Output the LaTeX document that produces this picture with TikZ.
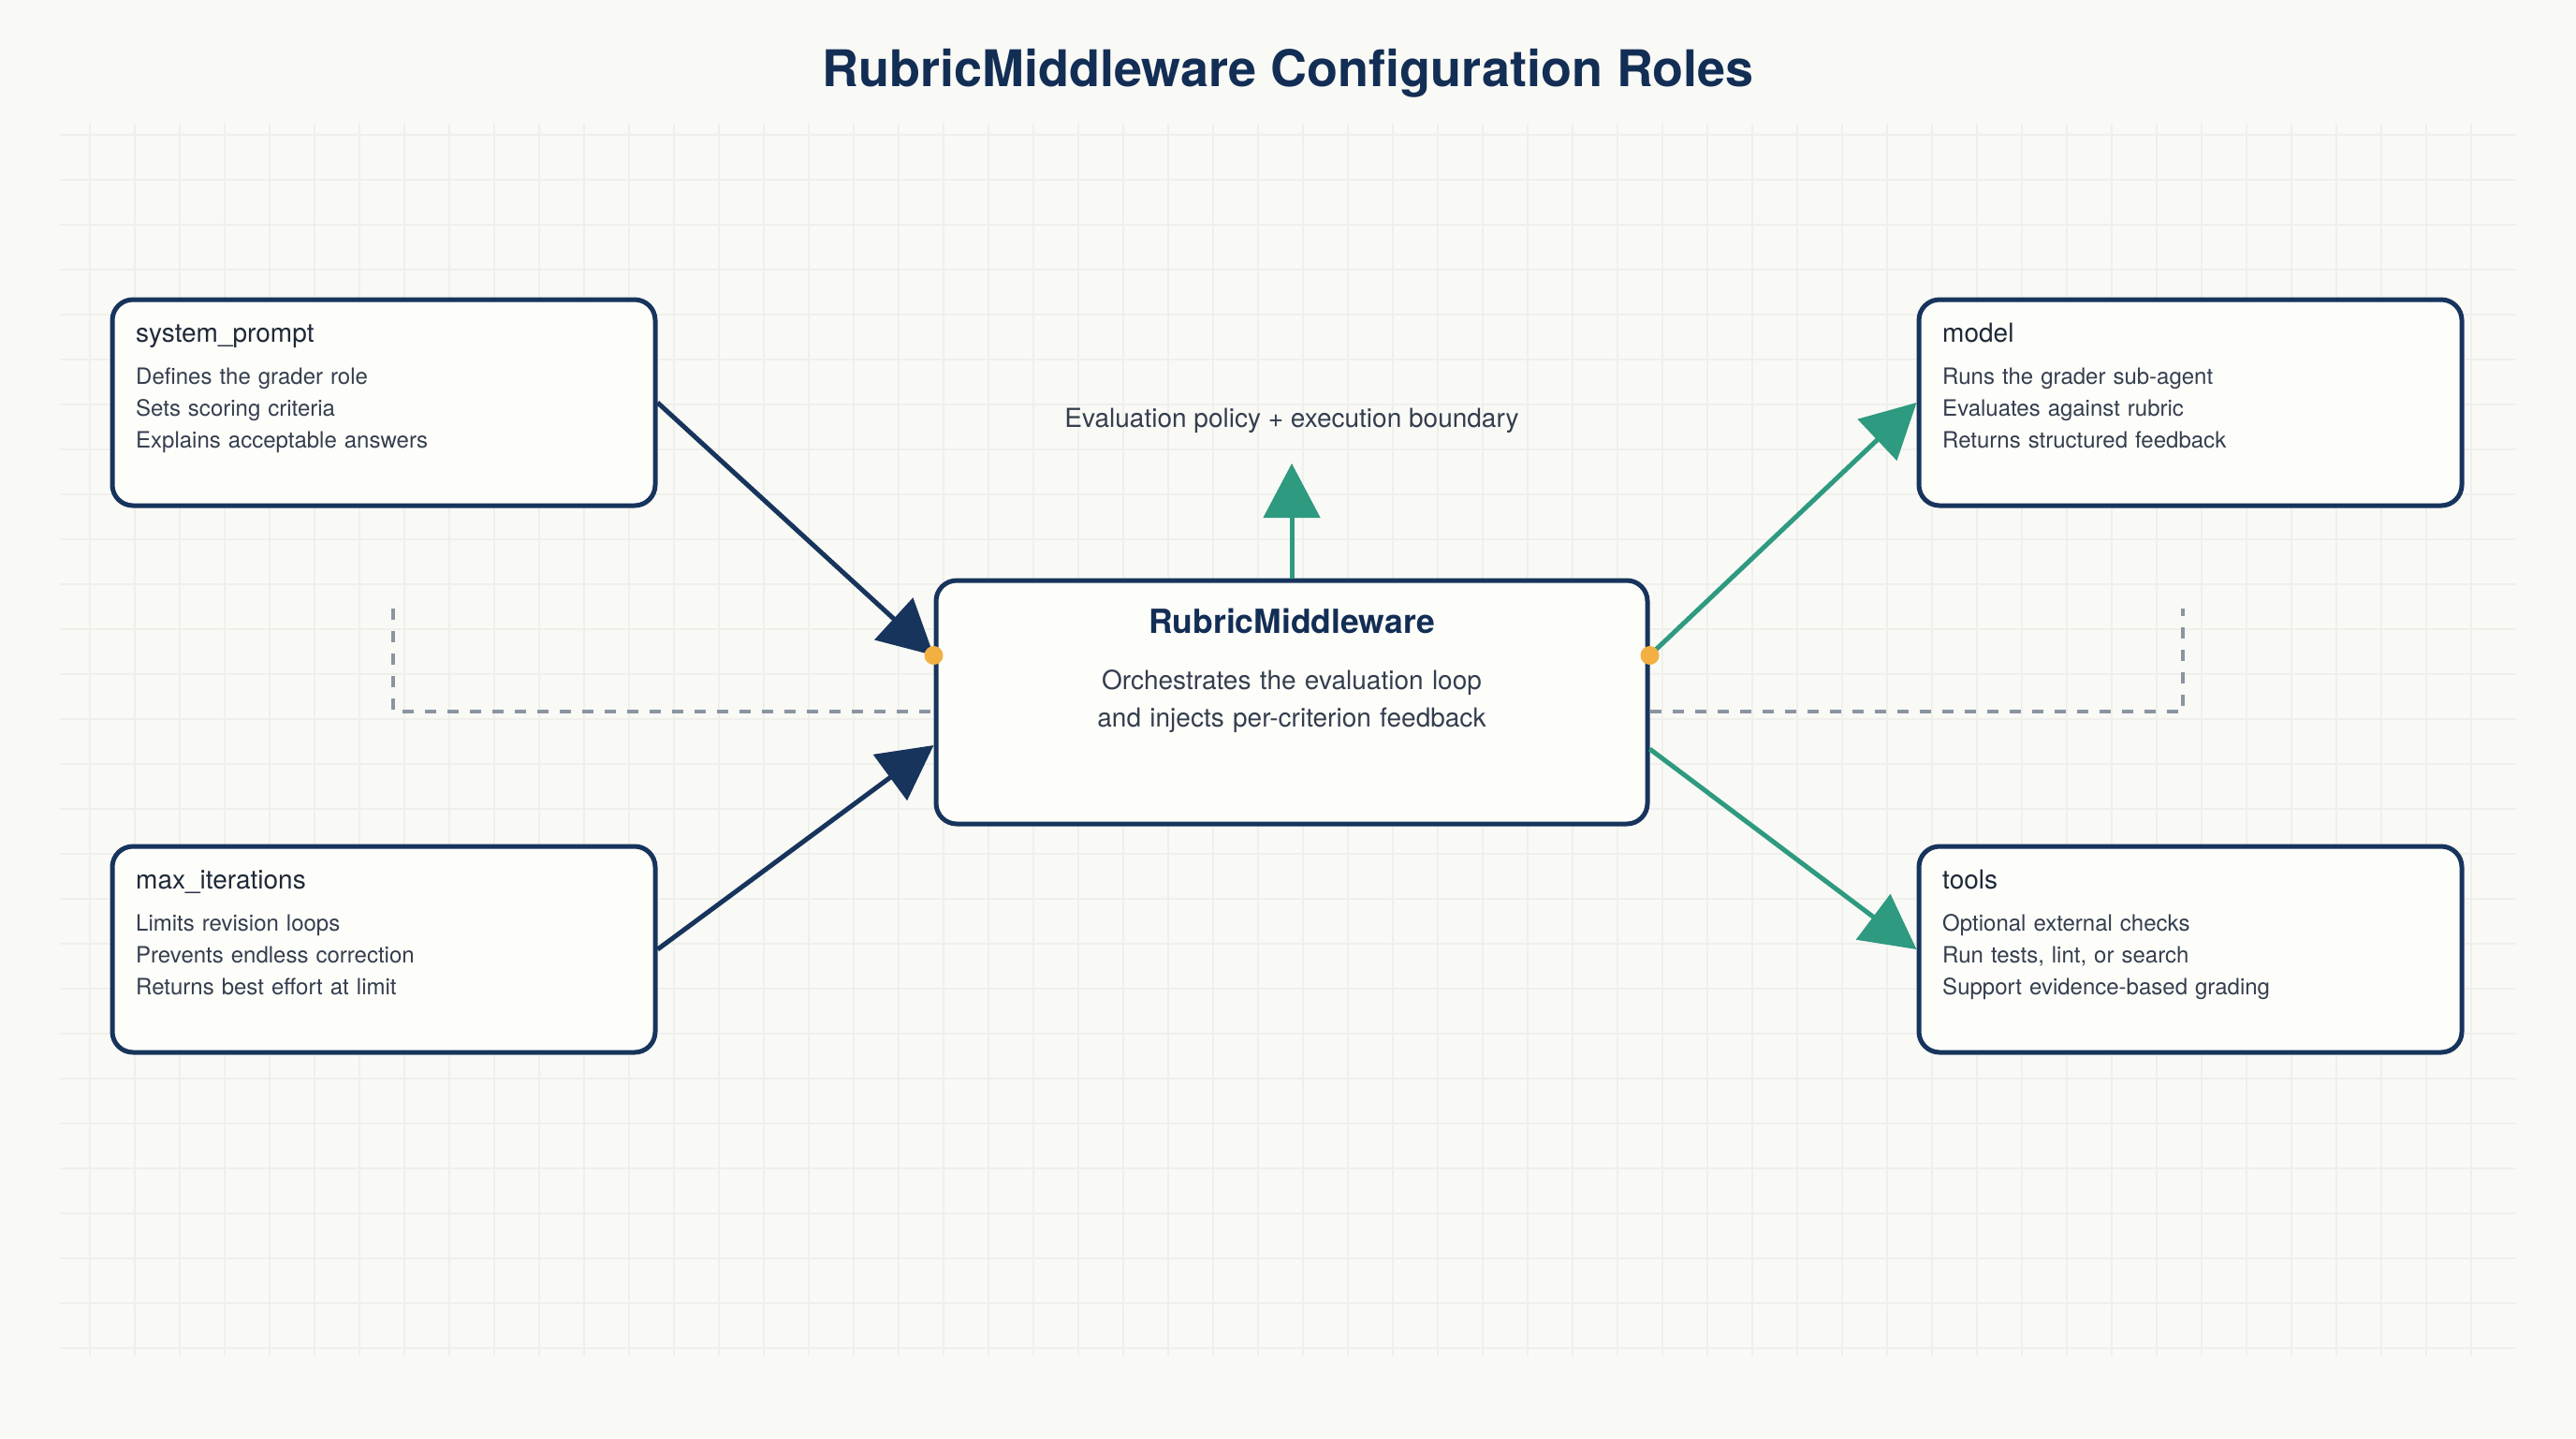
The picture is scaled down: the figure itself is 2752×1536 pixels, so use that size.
\documentclass[tikz,border=0pt]{standalone}
\usepackage{fontspec}
\setmainfont{TeX Gyre Heros}
\usepackage{tikz}
\usetikzlibrary{arrows.meta}
\usepackage{xcolor}

\definecolor{paper}{HTML}{F9F9F6}
\definecolor{gridgray}{HTML}{EFEFEB}
\definecolor{cardfill}{HTML}{FDFDFA}
\definecolor{navy}{HTML}{17345C}
\definecolor{titlenavy}{HTML}{132E55}
\definecolor{tealgreen}{HTML}{2E9A80}
\definecolor{portorange}{HTML}{F2B043}
\definecolor{loopgray}{HTML}{8A95A1}
\definecolor{inktext}{HTML}{343E4E}
\definecolor{headtext}{HTML}{1F2937}

\begin{document}
\begin{tikzpicture}[
        x=0.1mm, y=0.1mm,
        card/.style={
            rectangle,
            draw=navy,
            fill=cardfill,
            line width=0.5mm,
            rounded corners=2.2mm,
            minimum width=58mm,
            minimum height=22mm,
            inner sep=0pt
        },
        core/.style={
            card,
            minimum width=76mm,
            minimum height=26mm
        },
        cardhead/.style={
            anchor=base west,
            inner sep=0pt,
            text=headtext,
            font=\fontsize{7.97pt}{9.5pt}\selectfont
        },
        cardbody/.style={
            anchor=base west,
            inner sep=0pt,
            text=inktext,
            align=left,
            text width=50mm,
            font=\fontsize{6.83pt}{9.67pt}\selectfont
        },
        corehead/.style={
            anchor=base,
            inner sep=0pt,
            text=titlenavy,
            font=\bfseries\fontsize{10.1pt}{12pt}\selectfont
        },
        corebody/.style={
            anchor=base,
            inner sep=0pt,
            text=inktext,
            align=center,
            text width=70mm,
            font=\fontsize{7.97pt}{11.38pt}\selectfont
        },
        note/.style={
            anchor=base,
            inner sep=0pt,
            text=inktext,
            font=\fontsize{7.97pt}{9.5pt}\selectfont
        },
        title/.style={
            anchor=base,
            inner sep=0pt,
            text=titlenavy,
            font=\bfseries\fontsize{15.36pt}{18pt}\selectfont
        },
        port/.style={
            circle,
            fill=portorange,
            inner sep=0pt,
            minimum size=2mm
        },
        navyarrow/.style={
            -{Triangle[length=5.8mm, width=6mm]},
            draw=navy,
            line width=0.5mm
        },
        tealarrow/.style={
            -{Triangle[length=5.8mm, width=6mm]},
            draw=tealgreen,
            line width=0.5mm
        },
        loopline/.style={
            draw=loopgray,
            line width=0.35mm,
            dash pattern=on 1.2mm off 1.2mm
        },
        gridline/.style={
            draw=gridgray,
            line width=0.12mm
        }
    ]

        \path[use as bounding box, fill=paper] (0,0) rectangle (2752,-1536);
        \foreach \gx in {96,144,...,2640}
            \draw[gridline] (\gx,-132) -- (\gx,-1448);
        \foreach \gy in {144,192,...,1440}
            \draw[gridline] (64,-\gy) -- (2688,-\gy);

        \node[title] (heading) at (1376,-92) {RubricMiddleware Configuration Roles};

        \node[card] (sysprompt) at (410,-430) {};
        \node[card] (maxiter) at (410,-1014) {};
        \node[card] (model) at (2340,-430) {};
        \node[card] (tools) at (2340,-1014) {};
        \node[core] (rubric) at (1380,-750) {};

        \node[cardhead] (sysprompt-head) at ([xshift=2.7mm, yshift=-4.75mm]sysprompt.north west) {system\_prompt};
        \node[cardbody] (sysprompt-body) at ([xshift=2.7mm, yshift=-9.3mm]sysprompt.north west)
            {Defines the grader role\\Sets scoring criteria\\Explains acceptable answers};
        \node[cardhead] (maxiter-head) at ([xshift=2.7mm, yshift=-4.75mm]maxiter.north west) {max\_iterations};
        \node[cardbody] (maxiter-body) at ([xshift=2.7mm, yshift=-9.3mm]maxiter.north west)
            {Limits revision loops\\Prevents endless correction\\Returns best effort at limit};
        \node[cardhead] (model-head) at ([xshift=2.7mm, yshift=-4.75mm]model.north west) {model};
        \node[cardbody] (model-body) at ([xshift=2.7mm, yshift=-9.3mm]model.north west)
            {Runs the grader sub-agent\\Evaluates against rubric\\Returns structured feedback};
        \node[cardhead] (tools-head) at ([xshift=2.7mm, yshift=-4.75mm]tools.north west) {tools};
        \node[cardbody] (tools-body) at ([xshift=2.7mm, yshift=-9.3mm]tools.north west)
            {Optional external checks\\Run tests, lint, or search\\Support evidence-based grading};

        \node[corehead] (rubric-head) at ([yshift=-5.9mm]rubric.north) {RubricMiddleware};
        \node[corebody] (rubric-body) at ([yshift=-11.9mm]rubric.north)
            {Orchestrates the evaluation loop\\and injects per-criterion feedback};

        \node[note] (policy) at (1380,-456) {Evaluation policy + execution boundary};

        \coordinate (rubric-in) at ([yshift=5mm]rubric.west);
        \coordinate (rubric-low) at ([yshift=-4.6mm]rubric.west);
        \coordinate (rubric-out) at ([yshift=5mm]rubric.east);
        \coordinate (rubric-side) at ([yshift=-5mm]rubric.east);
        \coordinate (policy-tip) at (1380,-495);
        \coordinate (loop-left) at (420,-650);
        \coordinate (loop-right) at (2332,-650);

        \draw[loopline] (loop-left) |- ([yshift=-1mm]rubric.west);
        \draw[loopline] ([yshift=-1mm]rubric.east) -| (loop-right);

        \draw[navyarrow] (sysprompt.east) -- (rubric-in);
        \draw[navyarrow] (maxiter.east) -- (rubric-low);
        \draw[tealarrow] (rubric-out) -- (model.west);
        \draw[tealarrow] (rubric-side) -- (tools.west);
        \draw[tealarrow] (rubric.north) -- (policy-tip);

        \node[port] (inport) at (rubric-in) {};
        \node[port] (outport) at (rubric-out) {};

    \end{tikzpicture}
\end{document}
